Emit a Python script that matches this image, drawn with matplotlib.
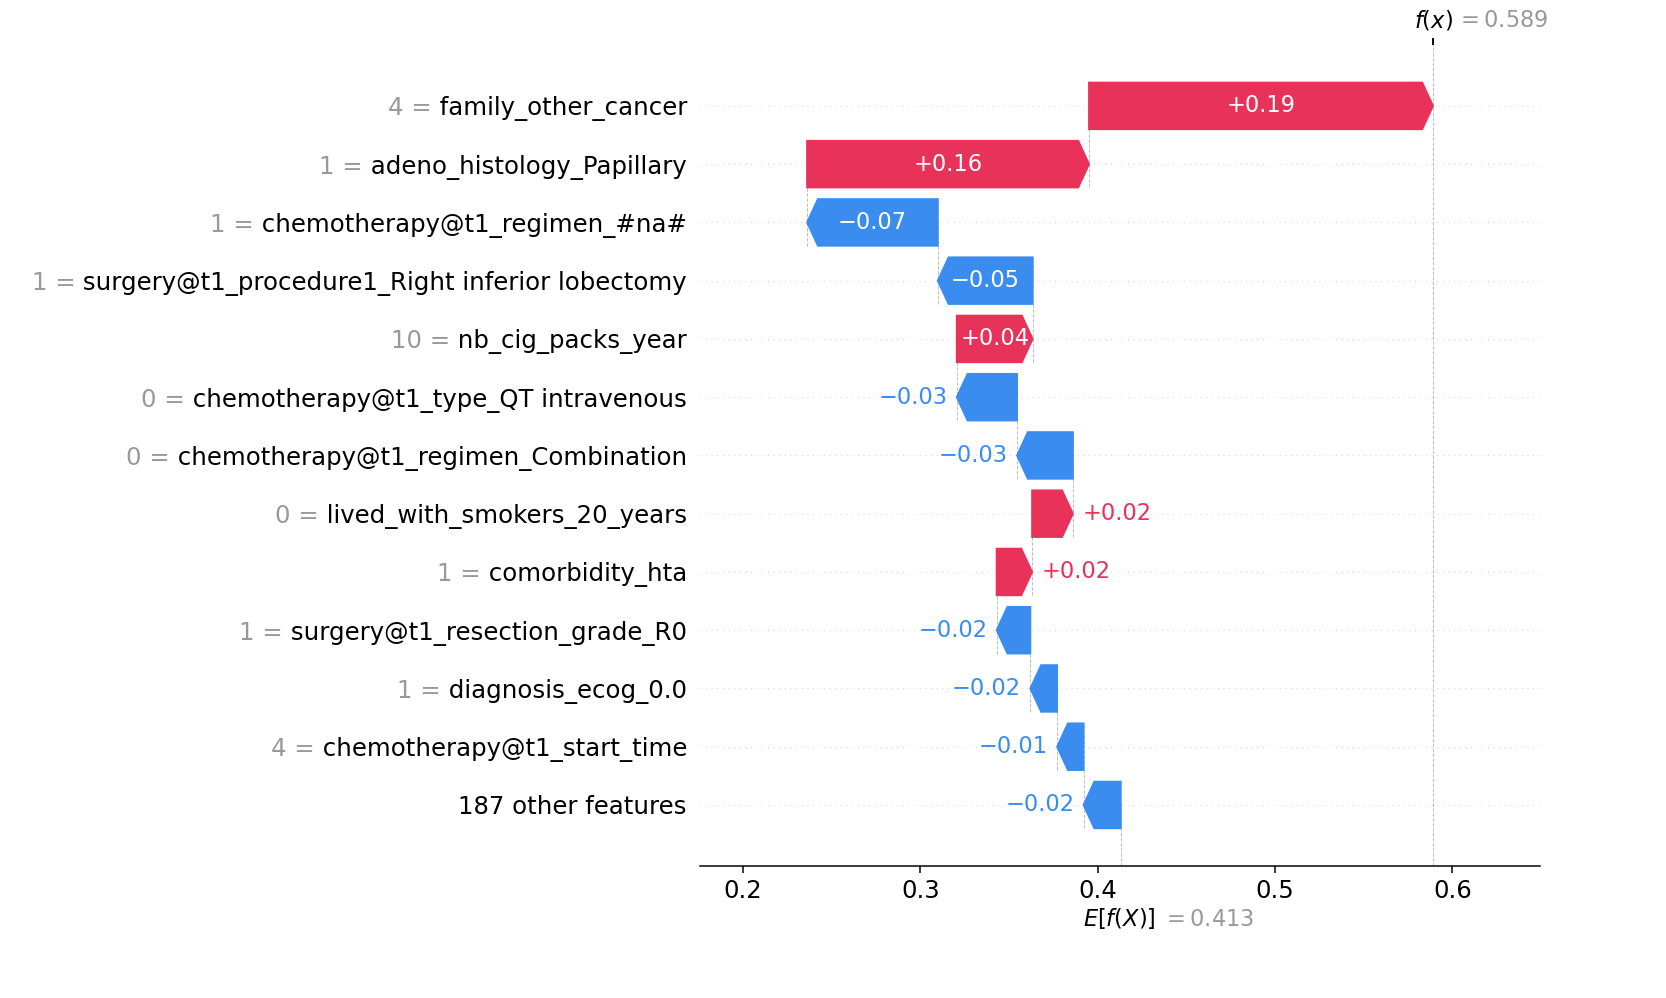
import re
import numpy as np
import matplotlib
matplotlib.use("Agg")
import matplotlib.pyplot as plt
import matplotlib.transforms as mtransforms

# ---------------- data (top row first) ----------------
feature_names = [
    "family_other_cancer",
    "adeno_histology_Papillary",
    "chemotherapy@t1_regimen_#na#",
    "surgery@t1_procedure1_Right inferior lobectomy",
    "nb_cig_packs_year",
    "chemotherapy@t1_type_QT intravenous",
    "chemotherapy@t1_regimen_Combination",
    "lived_with_smokers_20_years",
    "comorbidity_hta",
    "surgery@t1_resection_grade_R0",
    "diagnosis_ecog_0.0",
    "chemotherapy@t1_start_time",
]
feature_values = ["4", "1", "1", "1", "10", "0", "0", "0", "1", "1", "1", "4"]
shap_values = [0.194, 0.159, -0.0737, -0.0535, 0.0428, -0.034, -0.0315,
               0.023, 0.020, -0.019, -0.0151, -0.0149]
other_count = 187
other_value = -0.021
base_value = 0.413

RED = "#e9325a"
BLUE = "#3a8cee"
GREY = "#999999"


def format_value(s, fmt):
    s = fmt % s
    s = re.sub(r"\.?0+$", "", s)
    if s[0] == "-":
        s = "\u2212" + s[1:]
    return s


DPI = 135
FW, FH = 1666, 998
fig = plt.figure(figsize=(FW / DPI, FH / DPI), dpi=DPI)
ax = fig.add_axes([0.4202, 0.1327, 0.5042, 0.8219])

values = np.array(shap_values + [other_value])
num_features = len(values)
fx = base_value + values.sum()
rng = list(range(num_features - 1, -1, -1))

pos_lefts, pos_inds, pos_widths = [], [], []
neg_lefts, neg_inds, neg_widths = [], [], []
name_labels = ["" for _ in range(num_features)]
prefix_labels = ["" for _ in range(num_features)]
loc = fx
for i, sval in enumerate(shap_values):
    loc -= sval
    if sval >= 0:
        pos_inds.append(rng[i]); pos_widths.append(sval); pos_lefts.append(loc)
    else:
        neg_inds.append(rng[i]); neg_widths.append(sval); neg_lefts.append(loc)
    ax.plot([loc, loc], [rng[i] - 1 - 0.4, rng[i] + 0.4], color="#bbbbbb",
            linestyle="--", linewidth=0.5, zorder=-1)
    name_labels[rng[i]] = " " + feature_names[i]
    prefix_labels[rng[i]] = feature_values[i] + " ="

name_labels[0] = "%d other features" % other_count
remaining = base_value - loc
if remaining < 0:
    pos_inds.append(0); pos_widths.append(-remaining); pos_lefts.append(loc + remaining)
else:
    neg_inds.append(0); neg_widths.append(-remaining); neg_lefts.append(loc + remaining)

points = (pos_lefts + list(np.array(pos_lefts) + np.array(pos_widths))
          + neg_lefts + list(np.array(neg_lefts) + np.array(neg_widths)))
dataw = np.max(points) - np.min(points)

# invisible bars for axis sizing
pad = np.array([0.1 * dataw if w < 1 else 0 for w in pos_widths])
ax.barh(pos_inds, np.array(pos_widths) + pad + 0.02 * dataw,
        left=np.array(pos_lefts) - 0.01 * dataw, color=RED, alpha=0)
pad = np.array([-0.1 * dataw if -w < 1 else 0 for w in neg_widths])
ax.barh(neg_inds, np.array(neg_widths) + pad - 0.02 * dataw,
        left=np.array(neg_lefts) + 0.01 * dataw, color=BLUE, alpha=0)

head_length = 0.08
bar_width = 0.8
xlen = ax.get_xlim()[1] - ax.get_xlim()[0]
bbox = ax.get_window_extent().transformed(fig.dpi_scale_trans.inverted())
bbox_to_xscale = xlen / bbox.width
hl_scaled = bbox_to_xscale * head_length
renderer = fig.canvas.get_renderer()

for i in range(len(pos_inds)):
    dist = pos_widths[i]
    arrow = ax.arrow(pos_lefts[i], pos_inds[i], max(dist - hl_scaled, 1e-6), 0,
                     head_length=min(dist, hl_scaled), color=RED,
                     width=bar_width, head_width=bar_width)
    txt = ax.text(pos_lefts[i] + 0.5 * dist, pos_inds[i], format_value(dist, "%+0.02f"),
                  ha="center", va="center", color="white", fontsize=12)
    if txt.get_window_extent(renderer=renderer).width > arrow.get_window_extent(renderer=renderer).width:
        txt.remove()
        ax.text(pos_lefts[i] + (5 / 72) * bbox_to_xscale + dist, pos_inds[i],
                format_value(dist, "%+0.02f"), ha="left", va="center",
                color=RED, fontsize=12)

for i in range(len(neg_inds)):
    dist = neg_widths[i]
    arrow = ax.arrow(neg_lefts[i], neg_inds[i], -max(-dist - hl_scaled, 1e-6), 0,
                     head_length=min(-dist, hl_scaled), color=BLUE,
                     width=bar_width, head_width=bar_width)
    txt = ax.text(neg_lefts[i] + 0.5 * dist, neg_inds[i], format_value(dist, "%+0.02f"),
                  ha="center", va="center", color="white", fontsize=12)
    if txt.get_window_extent(renderer=renderer).width > arrow.get_window_extent(renderer=renderer).width:
        txt.remove()
        ax.text(neg_lefts[i] - (5 / 72) * bbox_to_xscale + dist, neg_inds[i],
                format_value(dist, "%+0.02f"), ha="right", va="center",
                color=BLUE, fontsize=12)

ax.set_yticks(list(range(num_features)))
ax.set_yticklabels(name_labels, fontsize=13)

for i in range(num_features):
    ax.axhline(i, color="#cccccc", lw=0.5, dashes=(1, 5), zorder=-1)

ax.axvline(base_value, 0, 1 / num_features, color="#bbbbbb", linestyle="--", linewidth=0.5, zorder=-1)
ax.axvline(fx, 0, 1, color="#bbbbbb", linestyle="--", linewidth=0.5, zorder=-1)

ax.xaxis.set_ticks_position("bottom")
ax.yaxis.set_ticks_position("none")
for s in ("right", "top", "left"):
    ax.spines[s].set_visible(False)
ax.tick_params(labelsize=13)

xmin, xmax = ax.get_xlim()

# E[f(X)] label at bottom (one line lower than the tick labels)
LINE = 14.4 / 72.
ax2 = ax.twiny()
ax2.set_xlim(xmin, xmax)
ax2.xaxis.set_ticks_position("bottom")
ax2.set_xticks([base_value, base_value + 1e-8])
ax2.set_xticklabels(["$E[f(X)]$", "$ = " + format_value(base_value, "%0.03f") + "$"],
                    fontsize=12, ha="left")
ax2.tick_params(axis="x", color=(0, 0, 0, 0))
for s in ("right", "top", "left", "bottom"):
    ax2.spines[s].set_visible(False)

# f(x) label at top
ax3 = ax.twiny()
ax3.set_xlim(xmin, xmax)
ax3.set_xticks([fx, fx + 1e-8])
ax3.set_xticklabels(["$f(x)$", "$ = " + format_value(fx, "%0.03f") + "$"], fontsize=12, ha="left")
tl = ax3.xaxis.get_majorticklabels()
tl[0].set_transform(tl[0].get_transform() + mtransforms.ScaledTranslation(-10 / 72., 0, fig.dpi_scale_trans))
tl[1].set_transform(tl[1].get_transform() + mtransforms.ScaledTranslation(12 / 72., 0, fig.dpi_scale_trans))
tl[1].set_color(GREY)
for s in ("right", "top", "left", "bottom"):
    ax3.spines[s].set_visible(False)

tl = ax2.xaxis.get_majorticklabels()
tl[0].set_transform(tl[0].get_transform() + mtransforms.ScaledTranslation(-20 / 72., -LINE, fig.dpi_scale_trans))
tl[1].set_transform(tl[1].get_transform() + mtransforms.ScaledTranslation(22 / 72., -1 / 72. - LINE, fig.dpi_scale_trans))
tl[1].set_color(GREY)

# grey "value =" prefixes placed just left of each black feature name
fig.canvas.draw()
renderer = fig.canvas.get_renderer()
ylabels = ax.yaxis.get_majorticklabels()
for row in range(num_features):
    if not prefix_labels[row]:
        continue
    lab = ylabels[row]
    bb = lab.get_window_extent(renderer=renderer)
    ydisp = ax.transData.transform((0, row))[1]
    fig.text(bb.x0 / FW, ydisp / FH, prefix_labels[row], ha="right",
             va="center_baseline", color=GREY, fontsize=13)

fig.savefig("out.png", dpi=DPI)
